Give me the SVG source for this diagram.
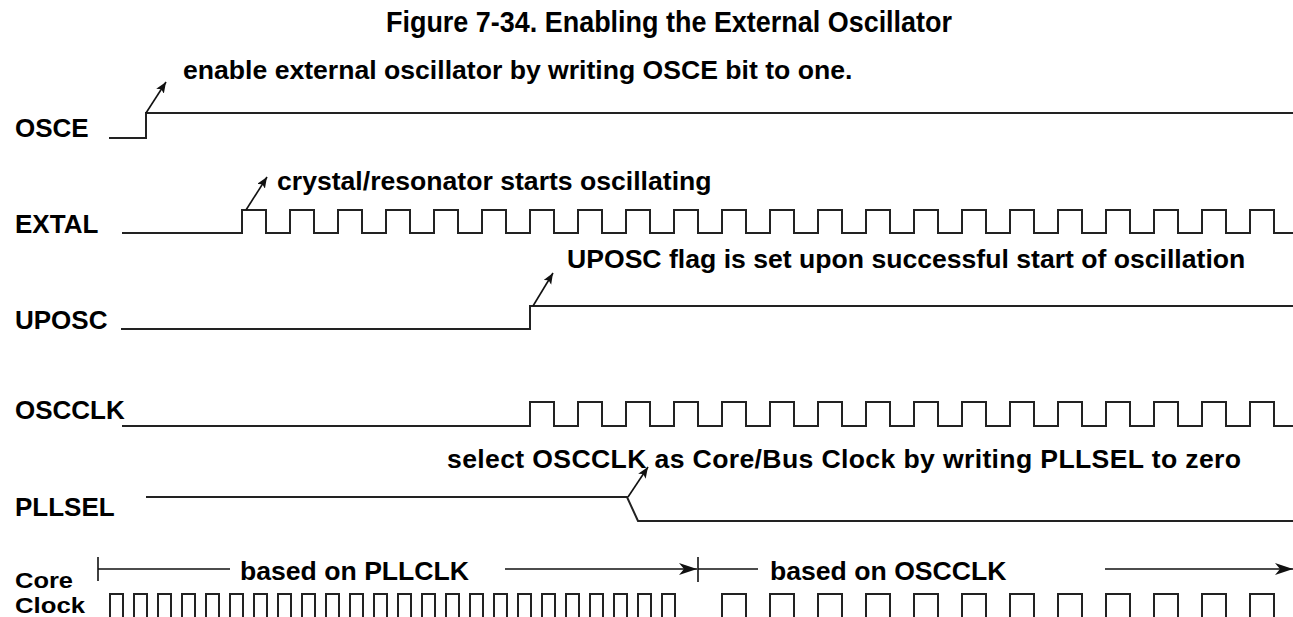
<svg xmlns="http://www.w3.org/2000/svg" width="1293" height="617" viewBox="0 0 1293 617">
<defs>
<style>
text{font-family:"Liberation Sans",Arial,Helvetica,sans-serif;font-weight:bold;fill:#000}
.lbl{font-size:26px}
.lbl2{font-size:22px}
.ann{font-size:26.6px}
.title{font-size:29px}
.sig{fill:none;stroke:#222;stroke-width:2;stroke-linejoin:miter}
.arr{fill:none;stroke:#111;stroke-width:1.6}
.dim{fill:none;stroke:#111;stroke-width:1.6}
</style>
<marker id="ah" markerUnits="userSpaceOnUse" markerWidth="13" markerHeight="10" refX="11" refY="4.5" orient="auto">
<path d="M0,0 L11,4.5 L0,9 L2.5,4.5 Z" fill="#111"/>
</marker>
<marker id="ahBig" markerUnits="userSpaceOnUse" markerWidth="20" markerHeight="14" refX="18" refY="6" orient="auto">
<path d="M0,0 L18,6 L0,12 L5,6 Z" fill="#111"/>
</marker>
</defs>
<rect width="1293" height="617" fill="#fff"/>

<text class="title" x="386" y="32" textLength="566" lengthAdjust="spacingAndGlyphs">Figure 7-34. Enabling the External Oscillator</text>

<g id="osce">
<text class="lbl" x="15" y="137">OSCE</text>
<path class="sig" d="M109,138 H146 V113 H1293"/>
<text class="ann" x="183" y="79">enable external oscillator by writing OSCE bit to one.</text>
</g>

<g id="extal">
<text class="lbl" x="15" y="233">EXTAL</text>
<path class="sig" d="M122,233 H242 v-23h24v23h24 v-23h24v23h24 v-23h24v23h24 v-23h24v23h24 v-23h24v23h24 v-23h24v23h24 v-23h24v23h24 v-23h24v23h24 v-23h24v23h24 v-23h24v23h24 v-23h24v23h24 v-23h24v23h24 v-23h24v23h24 v-23h24v23h24 v-23h24v23h24 v-23h24v23h24 v-23h24v23h24 v-23h24v23h24 v-23h24v23h24 v-23h24v23h24 v-23h24v23h24 v-23h24v23 H1293"/>
<text class="ann" x="277" y="190">crystal/resonator starts oscillating</text>
</g>

<g id="uposc">
<text class="lbl" x="15" y="329">UPOSC</text>
<path class="sig" d="M121,329 H530 V306 H1293"/>
<text class="ann" x="567" y="268">UPOSC flag is set upon successful start of oscillation</text>
</g>

<g id="oscclk">
<text class="lbl" x="15" y="419">OSCCLK</text>
<path class="sig" d="M122,426 H530 v-24h24v24h24 v-24h24v24h24 v-24h24v24h24 v-24h24v24h24 v-24h24v24h24 v-24h24v24h24 v-24h24v24h24 v-24h24v24h24 v-24h24v24h24 v-24h24v24h24 v-24h24v24h24 v-24h24v24h24 v-24h24v24h24 v-24h24v24h24 v-24h24v24h24 v-24h24v24 H1293"/>
</g>

<g id="pllsel">
<text class="lbl" x="15" y="516">PLLSEL</text>
<path class="sig" d="M146,497 H627 L638,521 H1293"/>
<text class="ann" x="447" y="468" textLength="794" lengthAdjust="spacing">select OSCCLK as Core/Bus Clock by writing PLLSEL to zero</text>
</g>

<g id="coreclock">
<text class="lbl2" x="15" y="588" textLength="58" lengthAdjust="spacingAndGlyphs">Core</text>
<text class="lbl2" x="15" y="613" textLength="70" lengthAdjust="spacingAndGlyphs">Clock</text>
<path class="sig" d="M110,621 v-27h13v27h11 v-27h13v27h11 v-27h13v27h11 v-27h13v27h11 v-27h13v27h11 v-27h13v27h11 v-27h13v27h11 v-27h13v27h11 v-27h13v27h11 v-27h13v27h11 v-27h13v27h11 v-27h13v27h11 v-27h13v27h11 v-27h13v27h11 v-27h13v27h11 v-27h13v27h11 v-27h13v27h11 v-27h13v27h11 v-27h13v27h11 v-27h13v27h11 v-27h13v27h11 v-27h13v27h11 v-27h13v27h11 v-27h13v27"/>
<path class="sig" d="M722,621 v-27h24v27h24 v-27h24v27h24 v-27h24v27h24 v-27h24v27h24 v-27h24v27h24 v-27h24v27h24 v-27h24v27h24 v-27h24v27h24 v-27h24v27h24 v-27h24v27h24 v-27h24v27h24 v-27h24v27"/>
<text class="ann" x="240" y="580">based on PLLCLK</text>
<text class="ann" x="770" y="580">based on OSCCLK</text>
</g>

<g id="connectors">
<line class="arr" x1="146" y1="113" x2="166" y2="82" marker-end="url(#ah)"/>
<line class="arr" x1="246" y1="210" x2="267" y2="177" marker-end="url(#ah)"/>
<line class="arr" x1="533" y1="306" x2="553" y2="273" marker-end="url(#ah)"/>
<line class="arr" x1="628" y1="497" x2="648" y2="467" marker-end="url(#ah)"/>
<line class="dim" x1="98" y1="557" x2="98" y2="581"/>
<line class="dim" x1="98" y1="569" x2="230" y2="569"/>
<line class="dim" x1="505" y1="569" x2="697" y2="569" marker-end="url(#ahBig)"/>
<line class="dim" x1="698" y1="557" x2="698" y2="582"/>
<line class="dim" x1="698" y1="569" x2="758" y2="569"/>
<line class="dim" x1="1105" y1="569" x2="1293" y2="569" marker-end="url(#ahBig)"/>
</g>
</svg>
